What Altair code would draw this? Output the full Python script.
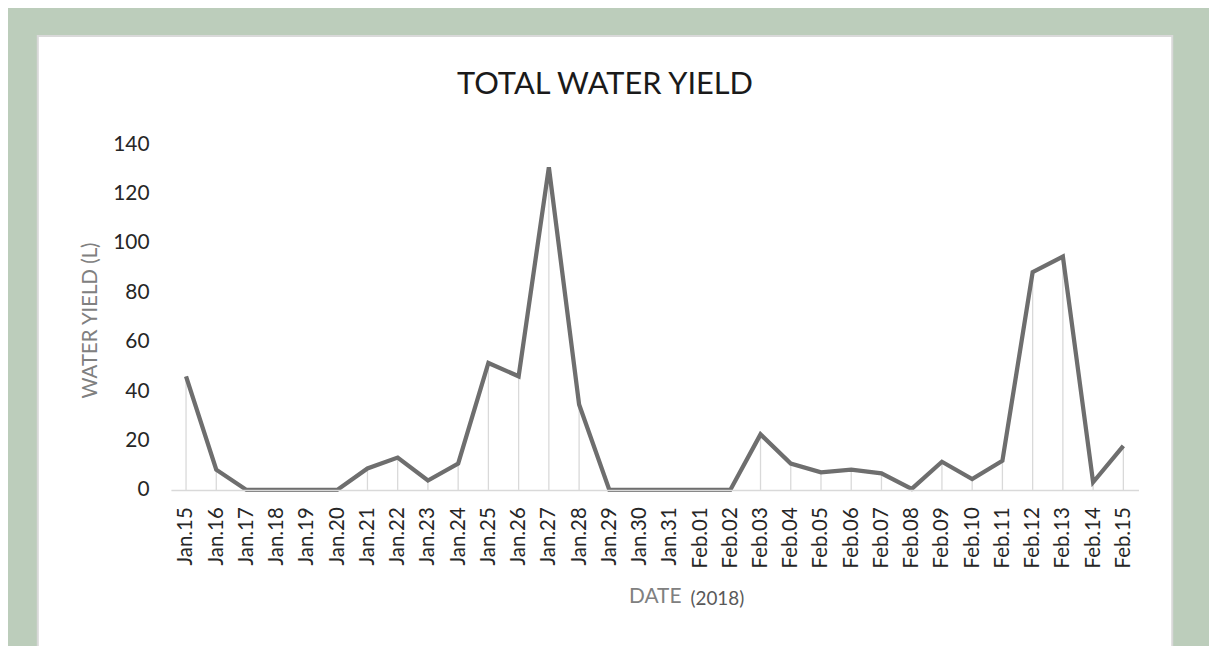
import altair as alt
import pandas as pd

dates = ["Jan.15", "Jan.16", "Jan.17", "Jan.18", "Jan.19", "Jan.20", "Jan.21", "Jan.22",
         "Jan.23", "Jan.24", "Jan.25", "Jan.26", "Jan.27", "Jan.28", "Jan.29", "Jan.30",
         "Jan.31", "Feb.01", "Feb.02", "Feb.03", "Feb.04", "Feb.05", "Feb.06", "Feb.07",
         "Feb.08", "Feb.09", "Feb.10", "Feb.11", "Feb.12", "Feb.13", "Feb.14", "Feb.15"]
yields = [46.0, 8.2, 0, 0, 0, 0, 8.7, 13.1,
          3.8, 10.7, 51.4, 46.0, 130.7, 34.6, 0, 0,
          0, 0, 0, 22.5, 10.7, 7.1, 8.2, 6.7,
          0.4, 11.4, 4.4, 11.8, 88.2, 94.5, 3.1, 17.8]
y_ticks = [0, 20, 40, 60, 80, 100, 120, 140]

df = pd.DataFrame({"date": dates, "yield": yields})

FONT = "Lato"
W, H = 974, 348

xenc = alt.X("date:N", sort=dates,
             scale=alt.Scale(type="point", padding=0.5),
             axis=alt.Axis(title="DATE", labelAngle=270, labelAlign="right",
                           labelBaseline="middle", labelPadding=17, ticks=False,
                           domainColor="#d9d9d9", domainWidth=1.5, zindex=1,
                           labelFont=FONT, labelFontSize=20.5, labelColor="#262626",
                           titleFont=FONT, titleFontSize=21, titleColor="#808080",
                           titleFontWeight="normal", titlePadding=18, labelOverlap=False))
yenc = alt.Y("yield:Q", scale=alt.Scale(domain=[0, 140], nice=False),
             axis=alt.Axis(title="WATER YIELD (L)", values=y_ticks, grid=False,
                           domain=False, ticks=False, labelPadding=22, zindex=1,
                           labelFont=FONT, labelFontSize=21, labelColor="#262626",
                           titleFont=FONT, titleFontSize=20.5, titleColor="#808080",
                           titleFontWeight="normal", titleX=-81, titleY=177,
                           titleBaseline="middle"))

panel = alt.Chart(pd.DataFrame({"p": [0]})).mark_rect(
    fill="white", stroke="#d9d9d9", strokeWidth=2
).encode(x=alt.value(-134), x2=alt.value(1008), y=alt.value(-109), y2=alt.value(520))

drops = alt.Chart(df).mark_rule(color="#d9d9d9", strokeWidth=1.3).encode(
    x=xenc, y=yenc, y2=alt.datum(0))

line = alt.Chart(df).mark_line(color="#6e6e6e", strokeWidth=4.3, strokeJoin="miter").encode(
    x=xenc, y=yenc)

year = alt.Chart(pd.DataFrame({"t": ["(2018)"]})).mark_text(
    font=FONT, fontSize=19, color="#595959", align="left", baseline="middle"
).encode(x=alt.value(523), y=alt.value(458), text="t:N")

chart = alt.layer(panel, drops, line, year).properties(
    width=W, height=H,
    title=alt.TitleParams("TOTAL WATER YIELD", font=FONT, fontSize=31,
                          fontWeight="normal", color="#1a1a1a", frame="group",
                          anchor="middle", dx=-50, offset=-90, baseline="alphabetic",
                          zindex=1),
    autosize=alt.AutoSizeParams(type="none"),
    padding={"left": 164, "top": 135, "right": 71, "bottom": 155},
    background="#bccdbb",
).configure_view(strokeWidth=0)

chart.save("out.html", embed_options={"renderer": "svg", "actions": False})
